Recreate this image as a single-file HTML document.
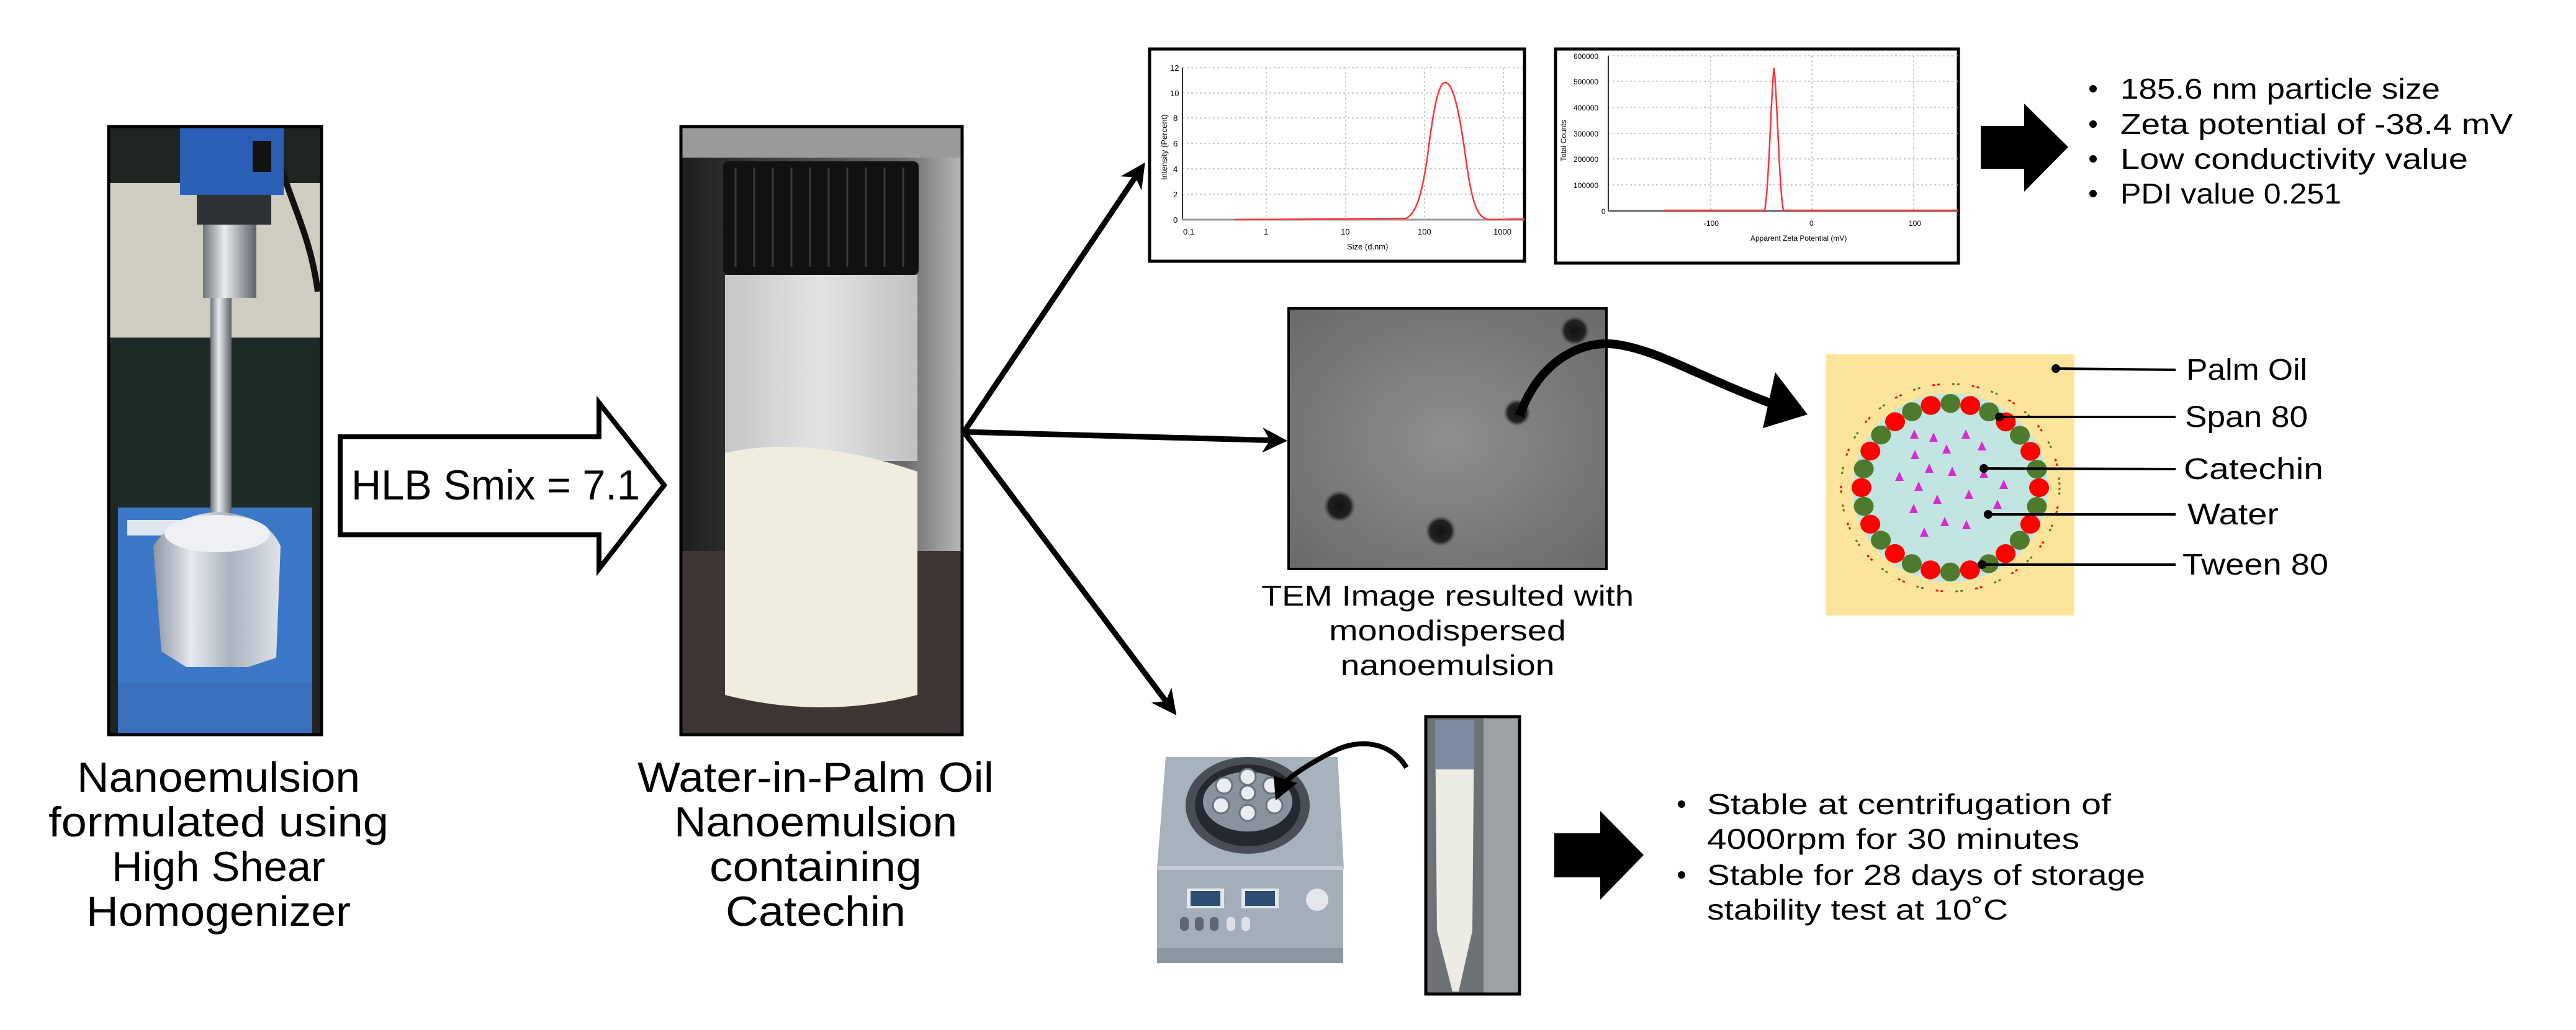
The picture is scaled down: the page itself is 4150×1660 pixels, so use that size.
<!DOCTYPE html>
<html><head><meta charset="utf-8"><style>
html,body{margin:0;padding:0;background:#fff;}
svg{display:block;}
text{font-family:"Liberation Sans",sans-serif;fill:#000;}
</style></head><body>
<svg width="4150" height="1660" viewBox="0 0 4150 1660" xmlns="http://www.w3.org/2000/svg">
<defs>
<linearGradient id="rod" x1="0" x2="1"><stop offset="0" stop-color="#6e737a"/><stop offset=".4" stop-color="#e8ecef"/><stop offset="1" stop-color="#5d6168"/></linearGradient>
<linearGradient id="foil" x1="0" x2="1"><stop offset="0" stop-color="#8d96a3"/><stop offset=".3" stop-color="#e6e9ee"/><stop offset=".6" stop-color="#aab2bd"/><stop offset="1" stop-color="#dfe3e8"/></linearGradient>
<linearGradient id="vbg" x1="0" x2="1"><stop offset="0" stop-color="#1d1d1f"/><stop offset=".15" stop-color="#2c2c2e"/><stop offset=".8" stop-color="#6d6d70"/><stop offset="1" stop-color="#b8b8ba"/></linearGradient>
<linearGradient id="glass" x1="0" x2="1"><stop offset="0" stop-color="#c4c6c8"/><stop offset=".5" stop-color="#e2e3e4"/><stop offset="1" stop-color="#bfc1c3"/></linearGradient>
<radialGradient id="tem" cx=".5" cy=".5" r=".7"><stop offset="0" stop-color="#8e8e8e"/><stop offset="1" stop-color="#6a6a6a"/></radialGradient>
<radialGradient id="dot" cx=".5" cy=".5" r=".5"><stop offset="0" stop-color="#111"/><stop offset=".7" stop-color="#222"/><stop offset="1" stop-color="#555" stop-opacity="0"/></radialGradient>
<marker id="ah" viewBox="0 0 10 10" refX="7" refY="5" markerWidth="4.5" markerHeight="4.5" orient="auto" markerUnits="strokeWidth"><path d="M0,0 L10,5 L0,10 L3,5 z" fill="#000"/></marker>
</defs>

<!-- Homogenizer photo -->
<g>
<rect x="175" y="204" width="343" height="980" fill="#1f2421"/>
<rect x="175" y="295" width="343" height="249" fill="#cfcdc2"/>
<rect x="175" y="544" width="343" height="280" fill="#1e2a28"/>
<rect x="190" y="818" width="313" height="366" fill="#3c78c8"/>
<rect x="190" y="1100" width="313" height="84" fill="#3a70bb"/>
<rect x="205" y="838" width="85" height="25" fill="#dfe6ee"/>
<path d="M450,260 C470,330 500,380 512,470" stroke="#111" stroke-width="10" fill="none"/>
<rect x="290" y="204" width="167" height="110" fill="#2b5fb5"/>
<rect x="407" y="227" width="30" height="50" fill="#111"/>
<rect x="317" y="314" width="120" height="48" fill="#2f3338"/>
<rect x="327" y="362" width="86" height="118" fill="url(#rod)"/>
<rect x="339" y="480" width="34" height="360" fill="url(#rod)"/>
<line x1="265" y1="1007" x2="420" y2="978" stroke="#d8dce2" stroke-width="8"/>
<path d="M247,880 Q280,830 350,825 Q430,830 452,880 L445,1060 L400,1075 L300,1075 L260,1050 Z" fill="url(#foil)"/>
<ellipse cx="350" cy="860" rx="85" ry="30" fill="#eef0f3"/>
<rect x="175" y="204" width="343" height="980" fill="none" stroke="#000" stroke-width="5"/>
</g>

<!-- HLB block arrow -->
<path d="M548,704 L965,704 L965,649 L1070,782 L965,917 L965,862 L548,862 Z" fill="#fff" stroke="#000" stroke-width="8" stroke-linejoin="miter"/>
<text x="566" y="805" font-size="68" textLength="465" lengthAdjust="spacingAndGlyphs">HLB Smix = 7.1</text>

<!-- Vial photo -->
<g>
<rect x="1097" y="204" width="453" height="980" fill="url(#vbg)"/>
<rect x="1097" y="204" width="453" height="50" fill="#9a9a9c"/>
<rect x="1097" y="888" width="453" height="296" fill="#3e3632"/>
<rect x="1168" y="443" width="310" height="300" fill="url(#glass)"/>
<path d="M1168,730 Q1300,700 1478,760 L1478,1120 Q1323,1160 1168,1120 Z" fill="#f1ece0"/>
<rect x="1165" y="260" width="315" height="183" rx="8" fill="#111"/>
<g stroke="#3a3a3a" stroke-width="3">
<line x1="1185" y1="270" x2="1185" y2="430"/><line x1="1215" y1="270" x2="1215" y2="430"/><line x1="1245" y1="270" x2="1245" y2="430"/><line x1="1275" y1="270" x2="1275" y2="430"/><line x1="1305" y1="270" x2="1305" y2="430"/><line x1="1335" y1="270" x2="1335" y2="430"/><line x1="1365" y1="270" x2="1365" y2="430"/><line x1="1395" y1="270" x2="1395" y2="430"/><line x1="1425" y1="270" x2="1425" y2="430"/><line x1="1455" y1="270" x2="1455" y2="430"/>
</g>
<rect x="1097" y="204" width="453" height="980" fill="none" stroke="#000" stroke-width="5"/>
</g>

<!-- captions -->
<g font-size="68" text-anchor="middle">
<text x="352" y="1276" textLength="456" lengthAdjust="spacingAndGlyphs">Nanoemulsion</text>
<text x="352" y="1348" textLength="548" lengthAdjust="spacingAndGlyphs">formulated using</text>
<text x="352" y="1420" textLength="344" lengthAdjust="spacingAndGlyphs">High Shear</text>
<text x="352" y="1492" textLength="426" lengthAdjust="spacingAndGlyphs">Homogenizer</text>
<text x="1314" y="1276" textLength="574" lengthAdjust="spacingAndGlyphs">Water-in-Palm Oil</text>
<text x="1314" y="1348" textLength="456" lengthAdjust="spacingAndGlyphs">Nanoemulsion</text>
<text x="1314" y="1420" textLength="342" lengthAdjust="spacingAndGlyphs">containing</text>
<text x="1314" y="1492" textLength="290" lengthAdjust="spacingAndGlyphs">Catechin</text>
</g>

<!-- connectors from vial -->
<g stroke="#000" stroke-width="9" fill="none">
<line x1="1553" y1="696" x2="1838" y2="272" marker-end="url(#ah)"/>
<line x1="1553" y1="696" x2="2062" y2="710" marker-end="url(#ah)"/>
<line x1="1553" y1="696" x2="1888" y2="1143" marker-end="url(#ah)"/>
</g>

<!-- Size graph -->
<g>
<rect x="1852" y="79" width="604" height="342" fill="#fff" stroke="#000" stroke-width="5"/>
<g stroke="#bbb" stroke-width="1.5" stroke-dasharray="3 4">
<line x1="1905" y1="109" x2="2456" y2="109"/><line x1="1905" y1="150" x2="2456" y2="150"/><line x1="1905" y1="190" x2="2456" y2="190"/><line x1="1905" y1="231" x2="2456" y2="231"/><line x1="1905" y1="272" x2="2456" y2="272"/><line x1="1905" y1="313" x2="2456" y2="313"/>
<line x1="2040" y1="109" x2="2040" y2="354"/><line x1="2168" y1="109" x2="2168" y2="354"/><line x1="2295" y1="109" x2="2295" y2="354"/><line x1="2422" y1="109" x2="2422" y2="354"/>
</g>
<line x1="1905" y1="109" x2="1905" y2="354" stroke="#333" stroke-width="2"/>
<line x1="1905" y1="354" x2="2456" y2="354" stroke="#999" stroke-width="3"/>
<path d="M1990,354 L2265,352 C2280,345 2290,320 2300,250 C2310,170 2318,133 2328,133 C2340,133 2350,170 2362,260 C2372,330 2380,352 2400,354 L2456,353" stroke="#f33" stroke-width="2.5" fill="none"/>
<g font-size="13" fill="#333"><text x="1885" y="114">12</text><text x="1885" y="155">10</text><text x="1890" y="195">8</text><text x="1890" y="236">6</text><text x="1890" y="277">4</text><text x="1890" y="318">2</text><text x="1890" y="359">0</text>
<text x="1906" y="378">0.1</text><text x="2036" y="378">1</text><text x="2160" y="378">10</text><text x="2284" y="378">100</text><text x="2406" y="378">1000</text><text x="2170" y="402">Size (d.nm)</text></g>
<text x="0" y="0" font-size="13" fill="#333" transform="translate(1880,290) rotate(-90)">Intensity (Percent)</text>
</g>

<!-- Zeta graph -->
<g>
<rect x="2506" y="79" width="649" height="345" fill="#fff" stroke="#000" stroke-width="5"/>
<g stroke="#bbb" stroke-width="1.5" stroke-dasharray="3 4">
<line x1="2591" y1="90" x2="3155" y2="90"/><line x1="2591" y1="131" x2="3155" y2="131"/><line x1="2591" y1="173" x2="3155" y2="173"/><line x1="2591" y1="215" x2="3155" y2="215"/><line x1="2591" y1="256" x2="3155" y2="256"/><line x1="2591" y1="298" x2="3155" y2="298"/>
<line x1="2756" y1="90" x2="2756" y2="340"/><line x1="2919" y1="90" x2="2919" y2="340"/><line x1="3083" y1="90" x2="3083" y2="340"/>
</g>
<line x1="2591" y1="90" x2="2591" y2="340" stroke="#333" stroke-width="2"/>
<line x1="2591" y1="340" x2="3155" y2="340" stroke="#666" stroke-width="3"/>
<path d="M2680,339 L2843,339 C2850,300 2853,150 2858,109 C2863,150 2866,300 2873,339 L3155,339" stroke="#f33" stroke-width="2.5" fill="none"/>
<g font-size="12" fill="#333"><text x="2535" y="95">600000</text><text x="2535" y="136">500000</text><text x="2535" y="178">400000</text><text x="2535" y="220">300000</text><text x="2535" y="261">200000</text><text x="2535" y="303">100000</text><text x="2580" y="345">0</text>
<text x="2745" y="364">-100</text><text x="2915" y="364">0</text><text x="3075" y="364">100</text><text x="2820" y="388">Apparent Zeta Potential (mV)</text></g>
<text x="0" y="0" font-size="12" fill="#333" transform="translate(2523,260) rotate(-90)">Total Counts</text>
</g>

<!-- big arrow 1 -->
<path d="M3191,203 L3261,203 L3261,167 L3332,237 L3261,309 L3261,272 L3191,272 Z" fill="#000"/>
<g font-size="46">
<circle cx="3372" cy="143" r="6"/><text x="3416" y="159" textLength="515" lengthAdjust="spacingAndGlyphs">185.6 nm particle size</text>
<circle cx="3372" cy="200" r="6"/><text x="3416" y="216" textLength="632" lengthAdjust="spacingAndGlyphs">Zeta potential of -38.4 mV</text>
<circle cx="3372" cy="256" r="6"/><text x="3416" y="272" textLength="560" lengthAdjust="spacingAndGlyphs">Low conductivity value</text>
<circle cx="3372" cy="312" r="6"/><text x="3416" y="328" textLength="356" lengthAdjust="spacingAndGlyphs">PDI value 0.251</text>
</g>

<!-- TEM -->
<rect x="2076" y="497" width="512" height="420" fill="url(#tem)" stroke="#000" stroke-width="4"/>
<circle cx="2444" cy="665" r="22" fill="url(#dot)"/>
<circle cx="2537" cy="533" r="24" fill="url(#dot)"/>
<circle cx="2158" cy="816" r="26" fill="url(#dot)"/>
<circle cx="2321" cy="856" r="25" fill="url(#dot)"/>
<g font-size="46" text-anchor="middle">
<text x="2332" y="976" textLength="600" lengthAdjust="spacingAndGlyphs">TEM Image resulted with</text>
<text x="2332" y="1032" textLength="382" lengthAdjust="spacingAndGlyphs">monodispersed</text>
<text x="2332" y="1088" textLength="345" lengthAdjust="spacingAndGlyphs">nanoemulsion</text>
</g>
<!-- curved arrow TEM -> diagram -->
<path d="M2448,670 C2480,580 2550,545 2610,556 C2680,568 2740,610 2880,660" stroke="#000" stroke-width="14" fill="none"/>
<path d="M2860,600 L2912,668 L2840,690 Z" fill="#000"/>

<!-- emulsion diagram -->
<g>
<rect x="2942" y="571" width="400" height="421" fill="#fde49b"/>
<ellipse cx="3142" cy="786" rx="157" ry="152" fill="#c3e5e1"/>
<g transform="translate(3142,786) scale(1,0.95)">
<circle r="176" fill="none" stroke="#4e7a2e" stroke-width="3" stroke-dasharray="4 4 4 52"/>
<circle r="176" fill="none" stroke="#f00" stroke-width="3" stroke-dasharray="4 4 4 52" stroke-dashoffset="32"/>
<circle r="143" fill="none" stroke="#f00" stroke-width="32" stroke-linecap="round" stroke-dasharray="0.01 64.17"/>
<circle r="143" fill="none" stroke="#4e7a2e" stroke-width="32" stroke-linecap="round" stroke-dasharray="0.01 64.17" stroke-dashoffset="32.09"/>
</g>
<g fill="#d82ad0">
<polygon points="3084,692 3091,707 3077,707"/><polygon points="3115,697 3122,712 3108,712"/><polygon points="3167,692 3174,707 3160,707"/><polygon points="3136,716 3143,731 3129,731"/><polygon points="3193,711 3200,726 3186,726"/><polygon points="3085,725 3092,740 3078,740"/><polygon points="3108,747 3115,762 3101,762"/><polygon points="3145,752 3152,767 3138,767"/><polygon points="3060,760 3067,775 3053,775"/><polygon points="3091,776 3098,791 3084,791"/><polygon points="3228,773 3235,788 3221,788"/><polygon points="3172,789 3179,804 3165,804"/><polygon points="3121,797 3128,812 3114,812"/><polygon points="3218,805 3225,820 3211,820"/><polygon points="3083,812 3090,827 3076,827"/><polygon points="3133,833 3140,848 3126,848"/><polygon points="3168,838 3175,853 3161,853"/><polygon points="3100,850 3107,865 3093,865"/><polygon points="3196,755 3203,770 3189,770"/>
</g>
<g stroke="#000" stroke-width="4">
<line x1="3312" y1="594" x2="3505" y2="596"/><line x1="3221" y1="672" x2="3505" y2="672"/><line x1="3196" y1="755" x2="3505" y2="756"/><line x1="3203" y1="829" x2="3505" y2="829"/><line x1="3193" y1="910" x2="3505" y2="910"/>
</g>
<g fill="#000"><circle cx="3312" cy="594" r="7"/><circle cx="3221" cy="672" r="7"/><circle cx="3196" cy="755" r="7"/><circle cx="3203" cy="829" r="7"/><circle cx="3193" cy="910" r="7"/></g>
<g font-size="48">
<text x="3522" y="612" textLength="195" lengthAdjust="spacingAndGlyphs">Palm Oil</text><text x="3520" y="688" textLength="198" lengthAdjust="spacingAndGlyphs">Span 80</text><text x="3518" y="772" textLength="225" lengthAdjust="spacingAndGlyphs">Catechin</text><text x="3524" y="845" textLength="147" lengthAdjust="spacingAndGlyphs">Water</text><text x="3516" y="926" textLength="235" lengthAdjust="spacingAndGlyphs">Tween 80</text>
</g>
</g>

<!-- Centrifuge -->
<g>
<path d="M1878,1220 L2155,1220 L2165,1400 L1864,1400 Z" fill="#a7b2bd"/>
<rect x="1864" y="1400" width="300" height="130" fill="#a3aeb9"/>
<rect x="1864" y="1396" width="300" height="6" fill="#c5ccd4"/>
<rect x="1864" y="1528" width="300" height="24" fill="#8d97a2"/>
<ellipse cx="2010" cy="1298" rx="100" ry="78" fill="#4a4f57"/>
<ellipse cx="2010" cy="1298" rx="85" ry="66" fill="#252a30"/>
<ellipse cx="2010" cy="1292" rx="72" ry="48" fill="#8a939d"/>
<g fill="#e9edf1" stroke="#6a727c" stroke-width="3">
<circle cx="2010" cy="1252" r="13"/><circle cx="1972" cy="1266" r="13"/><circle cx="2048" cy="1266" r="13"/><circle cx="1967" cy="1298" r="13"/><circle cx="2053" cy="1298" r="13"/><circle cx="2010" cy="1310" r="13"/><circle cx="2010" cy="1278" r="12"/>
</g>
<rect x="1912" y="1432" width="60" height="32" fill="#e3e7eb"/><rect x="1918" y="1436" width="48" height="24" fill="#2c4f73"/>
<rect x="2000" y="1432" width="60" height="32" fill="#e3e7eb"/><rect x="2006" y="1436" width="48" height="24" fill="#2c4f73"/>
<circle cx="2122" cy="1450" r="18" fill="#e3e7eb"/>
<g fill="#5e6670"><rect x="1901" y="1478" width="14" height="22" rx="6"/><rect x="1925" y="1478" width="14" height="22" rx="6"/><rect x="1949" y="1478" width="14" height="22" rx="6"/></g>
<g fill="#dde1e6"><rect x="1976" y="1478" width="14" height="22" rx="6"/><rect x="2000" y="1478" width="14" height="22" rx="6"/></g>
</g>
<!-- small curved arrow -->
<path d="M2266,1237 C2240,1195 2190,1190 2150,1210 C2110,1230 2080,1250 2070,1262" stroke="#000" stroke-width="8" fill="none"/>
<path d="M2052,1250 L2090,1262 L2055,1290 Z" fill="#000"/>

<!-- tube photo -->
<g>
<rect x="2297" y="1155" width="151" height="447" fill="#6d7277"/>
<rect x="2390" y="1155" width="58" height="447" fill="#9ba0a5"/>
<path d="M2312,1160 L2375,1160 L2372,1500 L2350,1598 L2340,1598 L2315,1500 Z" fill="#ecebe4"/>
<rect x="2312" y="1160" width="63" height="80" fill="#7d8aa0"/>
<rect x="2297" y="1155" width="151" height="447" fill="none" stroke="#000" stroke-width="5"/>
</g>

<!-- big arrow 2 -->
<path d="M2504,1343 L2578,1343 L2578,1307 L2648,1378 L2578,1450 L2578,1414 L2504,1414 Z" fill="#000"/>
<g font-size="46">
<circle cx="2709" cy="1296" r="6"/><text x="2750" y="1312" textLength="651" lengthAdjust="spacingAndGlyphs">Stable at centrifugation of</text>
<text x="2750" y="1368" textLength="600" lengthAdjust="spacingAndGlyphs">4000rpm for 30 minutes</text>
<circle cx="2709" cy="1410" r="6"/><text x="2750" y="1426" textLength="706" lengthAdjust="spacingAndGlyphs">Stable for 28 days of storage</text>
<text x="2750" y="1482" textLength="485" lengthAdjust="spacingAndGlyphs">stability test at 10˚C</text>
</g>
</svg>
</body></html>
